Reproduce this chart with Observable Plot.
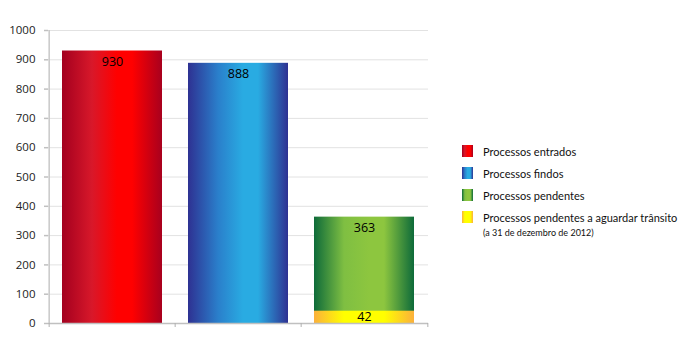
<!DOCTYPE html>
<html><head><meta charset="utf-8">
<script src="https://cdn.jsdelivr.net/npm/d3@7"></script>
<script src="https://cdn.jsdelivr.net/npm/@observablehq/plot@0.6"></script>
<style>
body{margin:0;background:#fff;font-family:"Open Sans",sans-serif;}
#wrap{position:relative;width:690px;height:352px;}
#legend{position:absolute;left:462px;top:145px;font-family:Lato,sans-serif;font-size:11px;color:#111;line-height:13px;}
.row{display:flex;align-items:flex-start;height:22px;}
.sw{width:11px;height:12px;margin-right:10px;margin-top:0px;}
.sub{font-size:9px;margin-top:3px;line-height:11px;}
</style></head><body>
<div id="wrap"><div id="chart"></div><div id="legend"></div></div>
<script>
const categories = ["Processos entrados", "Processos findos", "Processos pendentes"];
const values = [930, 888, 363];
const transitLabel = "Processos pendentes a aguardar trânsito";
const transitNote = "(a 31 de dezembro de 2012)";
const transitValue = 42;
const yTicks = [0,100,200,300,400,500,600,700,800,900,1000];

const gradients = {
  gRed: ["#a3001f", "#d8182a", "#ff0000", "#ff0000", "#a8001e"],
  gBlue: ["#2e3192", "#2a7fcb", "#29abe2", "#29abe2", "#2e3192"],
  gGreen: ["#0e6b3a", "#7fbf42", "#8dc63f", "#8dc63f", "#0e6b3a"],
  gYellow: ["#fbb03b", "#ffff00", "#ffff00", "#ffff00", "#fbb03b"]
};
const fills = ["url(#gRed)", "url(#gBlue)", "url(#gGreen)"];
const data = categories.map((c, i) => ({cat: c, value: values[i], fill: fills[i]}));
const transit = [{cat: categories[2], value: transitValue}];

const W = 690, H = 352, mL = 48, mR = 262;
const step = (W - mL - mR) / 3;

const plot = Plot.plot({
  width: W, height: H,
  marginLeft: mL, marginRight: mR, marginTop: 30, marginBottom: 29,
  style: {fontFamily: "'Open Sans', sans-serif", fontSize: "11px", color: "#222"},
  x: {domain: categories, paddingInner: 0.21, paddingOuter: 0.105, axis: null},
  y: {domain: [0, 1000], axis: null},
  marks: [
    Plot.gridY(yTicks, {stroke: "#e2e2e2", strokeOpacity: 1}),
    Plot.axisY({ticks: yTicks, tickFormat: d => String(d), tickSize: 4, tickPadding: 9, stroke: "#c0c0c0", strokeWidth: 1.5, fontSize: 11.5, label: null}),
    Plot.ruleX([categories[0]], {dx: -step / 2, stroke: "#c8c8c8", strokeWidth: 1.5}),
    Plot.barY(data.filter((d, i) => i === 0), {x: "cat", y: "value", fill: fills[0]}),
    Plot.barY(data.filter((d, i) => i === 1), {x: "cat", y: "value", fill: fills[1]}),
    Plot.barY(data.filter((d, i) => i === 2), {x: "cat", y: "value", fill: fills[2]}),
    Plot.barY(transit, {x: "cat", y: "value", fill: "url(#gYellow)"}),
    Plot.ruleY([0], {stroke: "#c0c0c0", strokeWidth: 1.5}),
    Plot.axisX({tickSize: 4, tickFormat: () => "", dx: -step / 2, stroke: "#b0b0b0", label: null}),
    Plot.axisX({ticks: [categories[2]], tickSize: 4, tickFormat: () => "", dx: step / 2, stroke: "#b0b0b0", label: null}),
    Plot.text(data, {x: "cat", y: "value", text: d => String(d.value), dy: 11, fontSize: 12.5, fill: "#000"}),
    Plot.text(transit, {x: "cat", y: d => d.value / 2, text: d => String(d.value), fontSize: 12.5, fill: "#000"})
  ]
});

const svg = d3.select(plot);
const defs = svg.insert("defs", ":first-child");
for (const [id, stops] of Object.entries(gradients)) {
  const g = defs.append("linearGradient").attr("id", id).attr("x1", "0%").attr("x2", "100%").attr("y1", "0%").attr("y2", "0%");
  const offs = [0, 0.3, 0.55, 0.7, 1];
  stops.forEach((c, i) => g.append("stop").attr("offset", offs[i]).attr("stop-color", c));
}
document.getElementById("chart").appendChild(plot);

const css = id => "linear-gradient(to right," + gradients[id].join(",") + ")";
const legendItems = [
  {label: categories[0], g: "gRed"},
  {label: categories[1], g: "gBlue"},
  {label: categories[2], g: "gGreen"},
  {label: transitLabel, g: "gYellow", note: transitNote}
];
const lg = document.getElementById("legend");
for (const it of legendItems) {
  const row = document.createElement("div");
  row.className = "row";
  row.innerHTML = `<div class="sw" style="background:${css(it.g)}"></div><div>${it.label}${it.note ? `<div class="sub">${it.note}</div>` : ""}</div>`;
  lg.appendChild(row);
}
</script>
</body></html>
